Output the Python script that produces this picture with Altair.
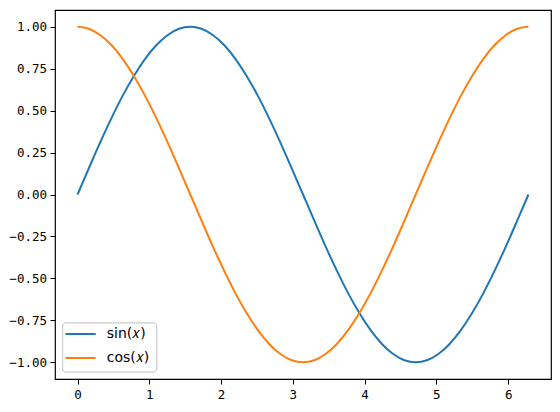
import altair as alt
import pandas as pd

x_vals = [0.000, 0.157, 0.314, 0.471, 0.628, 0.785, 0.942, 1.100, 1.257, 1.414,
          1.571, 1.728, 1.885, 2.042, 2.199, 2.356, 2.513, 2.670, 2.827, 2.985,
          3.142, 3.299, 3.456, 3.613, 3.770, 3.927, 4.084, 4.241, 4.398, 4.555,
          4.712, 4.869, 5.027, 5.184, 5.341, 5.498, 5.655, 5.812, 5.969, 6.126,
          6.283]
sin_vals = [0.000, 0.156, 0.309, 0.454, 0.588, 0.707, 0.809, 0.891, 0.951, 0.988,
            1.000, 0.988, 0.951, 0.891, 0.809, 0.707, 0.588, 0.454, 0.309, 0.156,
            0.000, -0.156, -0.309, -0.454, -0.588, -0.707, -0.809, -0.891, -0.951, -0.988,
            -1.000, -0.988, -0.951, -0.891, -0.809, -0.707, -0.588, -0.454, -0.309, -0.156,
            0.000]
cos_vals = [1.000, 0.988, 0.951, 0.891, 0.809, 0.707, 0.588, 0.454, 0.309, 0.156,
            0.000, -0.156, -0.309, -0.454, -0.588, -0.707, -0.809, -0.891, -0.951, -0.988,
            -1.000, -0.988, -0.951, -0.891, -0.809, -0.707, -0.588, -0.454, -0.309, -0.156,
            0.000, 0.156, 0.309, 0.454, 0.588, 0.707, 0.809, 0.891, 0.951, 0.988,
            1.000]
series_names = ["sin(𝑥)", "cos(𝑥)"]
series_colors = ["#1f77b4", "#ff7f0e"]
x_ticks = [0, 1, 2, 3, 4, 5, 6]
y_ticks = [-1.0, -0.75, -0.5, -0.25, 0.0, 0.25, 0.5, 0.75, 1.0]

rows = []
for xv, s, c in zip(x_vals, sin_vals, cos_vals):
    rows.append({"x": xv, "y": s, "series": series_names[0]})
    rows.append({"x": xv, "y": c, "series": series_names[1]})
df = pd.DataFrame(rows)
legend_df = pd.DataFrame({"series": series_names})

tick_font = "DejaVu Sans Mono"
color_scale = alt.Scale(domain=series_names, range=series_colors)

lines = alt.Chart(df).mark_line(strokeWidth=2, interpolate="monotone").encode(
    x=alt.X("x:Q",
            scale=alt.Scale(domain=[-0.314, 6.597], nice=False, zero=False),
            axis=alt.Axis(values=x_ticks, format="d", title=None, grid=False,
                          tickSize=5, labelPadding=4, domain=False,
                          labelFont=tick_font, labelFontSize=12.5, labelColor="black",
                          tickColor="black")),
    y=alt.Y("y:Q",
            scale=alt.Scale(domain=[-1.1, 1.1], nice=False, zero=False),
            axis=alt.Axis(values=y_ticks, format=".2f", title=None, grid=False,
                          tickSize=5, labelPadding=3.5, domain=False,
                          labelFont=tick_font, labelFontSize=12.5, labelColor="black",
                          tickColor="black")),
    color=alt.Color("series:N", scale=color_scale, legend=None),
)

legend_box = alt.Chart(legend_df).mark_rect(
    fill="white", fillOpacity=0.8, stroke="#cccccc", strokeWidth=1, cornerRadius=3
).encode(
    x=alt.value(7.7), x2=alt.value(101.7), y=alt.value(313), y2=alt.value(362)
)

legend_y = alt.Y("series:N", scale=alt.Scale(type="point", domain=series_names,
                                              range=[324, 348], padding=0), axis=None)

legend_lines = alt.Chart(legend_df).mark_rule(strokeWidth=2).encode(
    x=alt.value(10.5), x2=alt.value(40.7), y=legend_y,
    color=alt.Color("series:N", scale=color_scale, legend=None),
)

legend_text = alt.Chart(legend_df).mark_text(
    align="left", baseline="middle", font="DejaVu Sans", fontSize=14, color="black"
).encode(
    x=alt.value(51.7), y=legend_y, text="series:N",
)

chart = alt.layer(lines, legend_box, legend_lines, legend_text).resolve_scale(
    y="independent"
).properties(
    width=496, height=369,
    padding={"left": 47, "top": 2, "right": 1, "bottom": 25},
    autosize=alt.AutoSizeParams(type="none"),
).configure_view(stroke="black", strokeWidth=1.2)

chart.save("out.html", embed_options={"renderer": "svg", "actions": False})
